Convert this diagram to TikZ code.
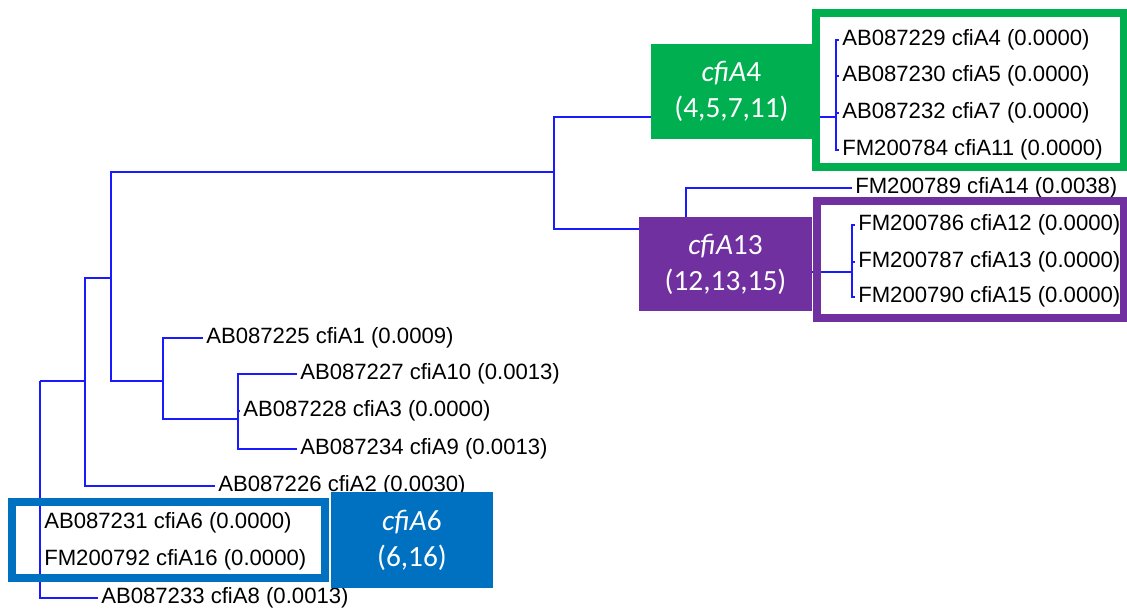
\documentclass[tikz,border=0pt]{standalone}
\usepackage{fontspec}
\newfontfamily\leaffont{Liberation Sans}
\newfontfamily\boxfont{Carlito}
\definecolor{cgreen}{HTML}{00B050}
\definecolor{cpurple}{HTML}{7030A0}
\definecolor{cblue}{HTML}{0070C0}
\definecolor{treeblue}{HTML}{1A1AFF}
\begin{document}
\begin{tikzpicture}[x=0.75pt,y=-0.75pt,
  br/.style={draw=treeblue,line width=2.1pt},
  leaf/.style={anchor=west,inner xsep=2.25pt,inner ysep=0pt,font=\leaffont\fontsize{16.6pt}{18pt}\selectfont},
  lbox/.style={rectangle,inner sep=0pt,text=white,align=center,font=\boxfont\fontsize{22pt}{27pt}\selectfont},
  frame/.style={line width=6pt}]
\useasboundingbox (0,0) rectangle (1127,609);
% internal nodes
\coordinate (nR) at (40,381);
\coordinate (nA) at (85,381);
\coordinate (nB) at (111,278);
\coordinate (nC) at (554,172);
\coordinate (nD) at (163,381);
\coordinate (nE) at (238,419);
\coordinate (nF) at (836,117);
\coordinate (nG) at (686,229);
\coordinate (nH) at (852,272);
% leaves
\node[leaf] (l4)  at (839,40)  {AB087229 cfiA4 (0.0000)};
\node[leaf] (l5)  at (839,76)  {AB087230 cfiA5 (0.0000)};
\node[leaf] (l7)  at (839,113) {AB087232 cfiA7 (0.0000)};
\node[leaf] (l11) at (839,150) {FM200784 cfiA11 (0.0000)};
\node[leaf] (l14) at (852,188) {FM200789 cfiA14 (0.0038)};
\node[leaf] (l12) at (855,225) {FM200786 cfiA12 (0.0000)};
\node[leaf] (l13) at (855,262) {FM200787 cfiA13 (0.0000)};
\node[leaf] (l15) at (855,297) {FM200790 cfiA15 (0.0000)};
\node[leaf] (l1)  at (203,338) {AB087225 cfiA1 (0.0009)};
\node[leaf] (l10) at (297,374) {AB087227 cfiA10 (0.0013)};
\node[leaf] (l3)  at (240,411) {AB087228 cfiA3 (0.0000)};
\node[leaf] (l9)  at (297,449) {AB087234 cfiA9 (0.0013)};
\node[leaf] (l2)  at (215,486) {AB087226 cfiA2 (0.0030)};
\node[leaf] (l6)  at (41,523)  {AB087231 cfiA6 (0.0000)};
\node[leaf] (l16) at (41,560)  {FM200792 cfiA16 (0.0000)};
\node[leaf] (l8)  at (98,598)  {AB087233 cfiA8 (0.0013)};
% branches
\draw[br] (nR) -- (nA);
\draw[br] (nR) |- (l6.west);
\draw[br] (nR) |- (l16.west);
\draw[br] (nR) |- (l8.west);
\draw[br] (nA) |- (nB);
\draw[br] (nA) |- (l2.west);
\draw[br] (nB) |- (nC);
\draw[br] (nB) |- (nD);
\draw[br] (nD) |- (l1.west);
\draw[br] (nD) |- (nE);
\draw[br] (nE) |- (l10.west);
\draw[br] (nE) |- (l3.west);
\draw[br] (nE) |- (l9.west);
\draw[br] (nC) |- (nF);
\draw[br] (nC) |- (nG);
\draw[br] (nF) |- (l4.west);
\draw[br] (nF) |- (l5.west);
\draw[br] (nF) |- (l7.west);
\draw[br] (nF) |- (l11.west);
\draw[br] (nG) |- (l14.west);
\draw[br] (nG) |- (nH);
\draw[br] (nH) |- (l12.west);
\draw[br] (nH) |- (l13.west);
\draw[br] (nH) |- (l15.west);
% label boxes
\node[lbox,fill=cgreen,minimum width=120.75pt,minimum height=71.25pt] (bG) at (731.5,91.5) {\itshape cfiA\upshape 4\\(4,5,7,11)};
\node[lbox,fill=cpurple,minimum width=129.75pt,minimum height=70.5pt] (bP) at (725.5,264) {\itshape cfiA\upshape 13\\(12,13,15)};
\node[lbox,fill=cblue,minimum width=121.5pt,minimum height=72pt] (bB) at (412,540) {\itshape cfiA\upshape 6\\(6,16)};
% frames
\draw[frame,draw=cgreen] (816,13) rectangle (1124,167);
\draw[frame,draw=cpurple] (817,201) rectangle (1124,318);
\draw[frame,draw=cblue] (11.5,501.5) rectangle (325,577.5);
\end{tikzpicture}
\end{document}
